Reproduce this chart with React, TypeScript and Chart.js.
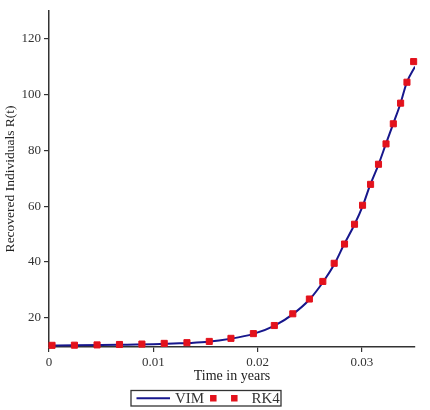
import React, { useEffect, useRef } from "react";
import { Chart, registerables } from "chart.js";

Chart.register(...registerables);

// RK4 solution points (time in years, recovered individuals)
const rk4T = [0.00029, 0.00244, 0.00461, 0.00676, 0.00891, 0.01105, 0.01323, 0.01537, 0.01745, 0.0196, 0.02161, 0.02338, 0.02497, 0.02626, 0.02735, 0.02834, 0.0293, 0.03007, 0.03084, 0.0316, 0.03232, 0.03302, 0.03372, 0.03433, 0.03497];
const rk4R = [10.1, 10.15, 10.25, 10.4, 10.55, 10.8, 11.05, 11.5, 12.6, 14.3, 17.2, 21.4, 26.7, 33.0, 39.5, 46.4, 53.5, 60.3, 67.8, 75.0, 82.3, 89.5, 96.9, 104.4, 111.8];

// VIM curve
const vimT = [0, 0.0025, 0.005, 0.0075, 0.01, 0.0125, 0.015, 0.0175, 0.0196, 0.0216, 0.0234, 0.025, 0.0263, 0.0274, 0.0283, 0.0293, 0.0301, 0.0308, 0.0316, 0.0323, 0.033, 0.0337, 0.0343, 0.0351];
const vimR = [10.05, 10.1, 10.2, 10.35, 10.5, 10.8, 11.3, 12.5, 14.2, 17.1, 21.3, 26.6, 32.9, 39.4, 46.3, 53.4, 60.2, 67.6, 74.9, 82.2, 89.4, 96.7, 104.2, 110.0];

const xTicks = [0, 0.01, 0.02, 0.03];
const xTickLabels = ["0", "0.01", "0.02", "0.03"];
const yTicks = [20, 40, 60, 80, 100, 120];
const yTickLabels = ["20", "40", "60", "80", "100", "120"];

const seriesNames = ["VIM", "RK4"];
const xTitle = "Time in years";
const yTitle = "Recovered Individuals R(t)";

const NAVY = "#17178c";
const RED = "#e3121c";
const AXIS = "#333333";
const FONT = "'Liberation Serif', 'Times New Roman', serif";

const legendPlugin = {
  id: "boxLegend",
  afterDraw(chart: any) {
    const ctx = chart.ctx;
    ctx.save();
    const bx = 131, by = 390.5, bw = 150, bh = 15.5;
    ctx.strokeStyle = AXIS;
    ctx.lineWidth = 1.3;
    ctx.strokeRect(bx, by, bw, bh);
    const cy = by + bh / 2;
    ctx.strokeStyle = NAVY;
    ctx.lineWidth = 2;
    ctx.beginPath();
    ctx.moveTo(bx + 5.5, cy);
    ctx.lineTo(bx + 39, cy);
    ctx.stroke();
    ctx.fillStyle = "#333";
    ctx.font = `15px ${FONT}`;
    ctx.textBaseline = "middle";
    ctx.textAlign = "left";
    ctx.fillText(seriesNames[0], bx + 44, cy + 0.5);
    ctx.fillStyle = RED;
    const s = 6.5;
    ctx.fillRect(bx + 82.3 - s / 2, cy - s / 2, s, s);
    ctx.fillRect(bx + 103.3 - s / 2, cy - s / 2, s, s);
    ctx.fillStyle = "#333";
    ctx.fillText(seriesNames[1], bx + 120.5, cy + 0.5);
    ctx.restore();
  },
};

export default function App() {
  const ref = useRef<HTMLCanvasElement | null>(null);
  useEffect(() => {
    if (!ref.current) return;
    const chart = new Chart(ref.current, {
      type: "scatter",
      data: {
        datasets: [
          {
            label: seriesNames[1],
            data: rk4T.map((t, i) => ({ x: t, y: rk4R[i] })),
            showLine: false,
            pointStyle: "rect",
            pointRadius: 4.3,
            pointBorderWidth: 1,
            backgroundColor: RED,
            borderColor: RED,
            order: 0,
            clip: false,
          },
          {
            label: seriesNames[0],
            data: vimT.map((t, i) => ({ x: t, y: vimR[i] })),
            showLine: true,
            pointRadius: 0,
            borderColor: NAVY,
            backgroundColor: NAVY,
            borderWidth: 2,
            cubicInterpolationMode: "monotone",
            order: 1,
          },
        ],
      },
      options: {
        responsive: false,
        animation: false,
        layout: { padding: { left: 0, top: 7, right: 15, bottom: 25 } },
        plugins: { legend: { display: false }, tooltip: { enabled: false } },
        scales: {
          x: {
            type: "linear",
            position: "bottom",
            min: 0,
            max: 0.0351,
            border: { color: AXIS, width: 1.5 },
            grid: { drawOnChartArea: false, drawTicks: true, tickLength: 5, color: AXIS, lineWidth: 1.2 },
            ticks: {
              color: "#333",
              font: { family: FONT, size: 13 },
              padding: 3,
              maxRotation: 0,
              callback: (v: any) => {
                const i = xTicks.findIndex((t) => Math.abs(t - v) < 1e-9);
                return i >= 0 ? xTickLabels[i] : "";
              },
            },
            afterBuildTicks: (s: any) => {
              s.ticks = xTicks.map((v) => ({ value: v }));
            },
            afterFit: (s: any) => {
              s.height = 38;
            },
            title: {
              display: true,
              text: xTitle,
              color: "#222",
              font: { family: FONT, size: 14 },
              padding: { top: 0, bottom: 0 },
            },
          },
          y: {
            type: "linear",
            min: 9.5,
            max: 130,
            border: { color: AXIS, width: 1.5 },
            grid: { drawOnChartArea: false, drawTicks: true, tickLength: 5, color: AXIS, lineWidth: 1.2 },
            ticks: {
              color: "#333",
              font: { family: FONT, size: 13 },
              padding: 3,
              callback: (v: any) => {
                const i = yTicks.findIndex((t) => Math.abs(t - v) < 1e-9);
                return i >= 0 ? yTickLabels[i] : "";
              },
            },
            afterBuildTicks: (s: any) => {
              s.ticks = yTicks.map((v) => ({ value: v }));
            },
            afterFit: (s: any) => {
              s.width = 49;
            },
            title: {
              display: true,
              text: yTitle,
              color: "#222",
              font: { family: FONT, size: 13.5 },
              padding: { top: 2, bottom: 0 },
            },
          },
        },
      },
      plugins: [legendPlugin],
    } as any);
    return () => chart.destroy();
  }, []);
  return (
    <div style={{ position: "fixed", left: 0, top: 0, width: 430, height: 410, background: "#fff" }}>
      <canvas ref={ref} width={430} height={410} style={{ display: "block" }} />
    </div>
  );
}
